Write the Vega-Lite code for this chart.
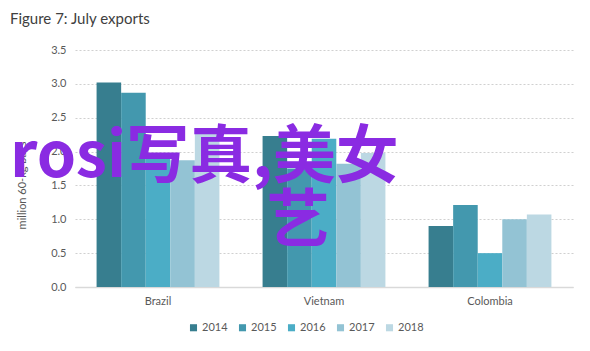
{
  "$schema": "https://vega.github.io/schema/vega-lite/v6.json",
  "autosize": {"type": "none"},
  "width": 498,
  "height": 237,
  "padding": {"left": 75, "top": 50, "right": 17, "bottom": 64},
  "background": "white",
  "title": {
    "text": "Figure 7: July exports",
    "anchor": "start",
    "frame": "group",
    "dx": -65,
    "offset": 17,
    "font": "Lato",
    "fontSize": 15,
    "fontWeight": "normal",
    "color": "#404040"
  },
  "data": {
    "values": [
      {"country": "Brazil", "year": "2014", "value": 3.02},
      {"country": "Brazil", "year": "2015", "value": 2.87},
      {"country": "Brazil", "year": "2016", "value": 1.95},
      {"country": "Brazil", "year": "2017", "value": 1.87},
      {"country": "Brazil", "year": "2018", "value": 2.29},
      {"country": "Vietnam", "year": "2014", "value": 2.23},
      {"country": "Vietnam", "year": "2015", "value": 1.75},
      {"country": "Vietnam", "year": "2016", "value": 2.19},
      {"country": "Vietnam", "year": "2017", "value": 1.82},
      {"country": "Vietnam", "year": "2018", "value": 1.98},
      {"country": "Colombia", "year": "2014", "value": 0.9},
      {"country": "Colombia", "year": "2015", "value": 1.21},
      {"country": "Colombia", "year": "2016", "value": 0.5},
      {"country": "Colombia", "year": "2017", "value": 1.0},
      {"country": "Colombia", "year": "2018", "value": 1.07}
    ]
  },
  "layer": [
    {
      "mark": {"type": "bar"},
      "encoding": {
        "x": {
          "field": "country",
          "type": "nominal",
          "sort": ["Brazil", "Vietnam", "Colombia"],
          "scale": {"paddingInner": 0.26, "paddingOuter": 0.13},
          "axis": {"title": null}
        },
        "xOffset": {"field": "year", "type": "nominal", "scale": {"paddingInner": 0, "paddingOuter": 0}},
        "y": {
          "field": "value",
          "type": "quantitative",
          "scale": {"domain": [0, 3.5], "nice": false},
          "axis": {"title": "million 60-kg bags", "values": [0, 0.5, 1, 1.5, 2, 2.5, 3, 3.5], "format": ".1f", "labelOverlap": false}
        },
        "color": {
          "field": "year",
          "type": "nominal",
          "scale": {
            "domain": ["2014", "2015", "2016", "2017", "2018"],
            "range": ["#377e8f", "#4398ae", "#4badc6", "#93c3d4", "#bcd8e3"]
          },
          "legend": {
            "title": null,
            "orient": "none",
            "direction": "horizontal",
            "legendX": 113,
            "legendY": 272,
            "symbolType": "square",
            "symbolSize": 50,
            "symbolStrokeWidth": 0,
            "labelFont": "Lato",
            "labelFontSize": 11,
            "labelColor": "#595959",
            "labelOffset": 3,
            "columnPadding": 9
          }
        }
      }
    },
    {
      "data": {"values": [{"label": "rosi写真,美女"}]},
      "mark": {
        "type": "text",
        "font": "Noto Sans CJK SC",
        "fontSize": 63,
        "fontWeight": "bold",
        "color": "#8a2be2",
        "align": "left",
        "baseline": "alphabetic",
        "dx": -148
      },
      "encoding": {
        "text": {"field": "label"},
        "x": {"datum": "Brazil", "axis": {"title": null}},
        "y": {"datum": 1.63, "axis": {"title": "million 60-kg bags", "values": [0, 0.5, 1, 1.5, 2, 2.5, 3, 3.5], "format": ".1f", "labelOverlap": false}}
      }
    },
    {
      "data": {"values": [{"label": "艺"}]},
      "mark": {
        "type": "text",
        "font": "Noto Sans CJK SC",
        "fontSize": 63,
        "fontWeight": "bold",
        "color": "#8a2be2",
        "align": "center",
        "baseline": "alphabetic",
        "dx": -26
      },
      "encoding": {
        "text": {"field": "label"},
        "x": {"datum": "Vietnam", "axis": {"title": null}},
        "y": {"datum": 0.68, "axis": {"title": "million 60-kg bags", "values": [0, 0.5, 1, 1.5, 2, 2.5, 3, 3.5], "format": ".1f", "labelOverlap": false}}
      }
    }
  ],
  "config": {
    "view": {"stroke": null},
    "font": "Lato",
    "axisX": {
      "labelAngle": 0,
      "labelFont": "Lato",
      "labelFontSize": 11,
      "labelColor": "#595959",
      "labelPadding": 8,
      "ticks": false,
      "domainColor": "#d9d9d9",
      "domainWidth": 1.5,
      "grid": false
    },
    "axisY": {
      "titleFont": "Lato",
      "titleFontSize": 11,
      "titleFontWeight": "normal",
      "titleColor": "#595959",
      "titlePadding": 23,
      "titleY": 135,
      "labelOverlap": false,
      "labelFlush": false,
      "labelFont": "Lato",
      "labelFontSize": 11,
      "labelColor": "#595959",
      "labelPadding": 9,
      "ticks": false,
      "domain": false,
      "grid": true,
      "gridColor": "#d0d0d0",
      "gridDash": [2, 2],
      "gridWidth": 1.2
    }
  }
}
